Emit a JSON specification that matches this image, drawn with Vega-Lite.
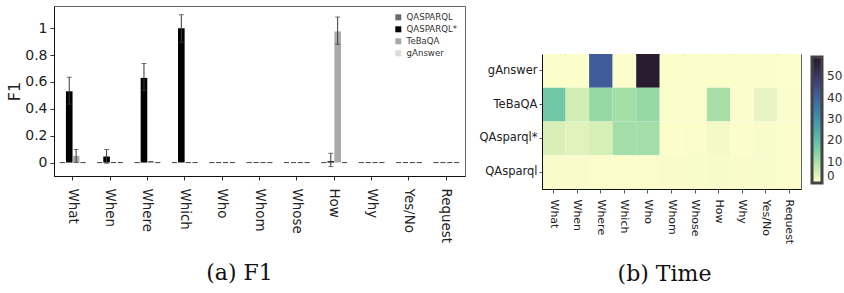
{
  "$schema": "https://vega.github.io/schema/vega-lite/v6.json",
  "padding": {"left": 6, "top": 5, "right": 0, "bottom": 0},
  "background": "white",
  "spacing": 12,
  "config": {
    "font": "DejaVu Sans",
    "view": {"stroke": "#666", "strokeWidth": 1},
    "axis": {"domainColor": "#111", "tickColor": "#333", "labelColor": "#222", "titleColor": "#222", "labelFont": "DejaVu Sans", "grid": false},
    "axisY": {"labelOverlap": false}
  },
  "resolve": {"scale": {"color": "independent"}, "legend": {"color": "independent"}},
  "datasets": {
    "f1": [
      {"q": "What", "sys": "QASPARQL", "f1": 0, "lo": 0, "hi": 0},
      {"q": "What", "sys": "QASPARQL*", "f1": 0.53, "lo": 0.435, "hi": 0.635},
      {"q": "What", "sys": "TeBaQA", "f1": 0.05, "lo": 0, "hi": 0.097},
      {"q": "What", "sys": "gAnswer", "f1": 0, "lo": 0, "hi": 0},
      {"q": "When", "sys": "QASPARQL", "f1": 0, "lo": 0, "hi": 0},
      {"q": "When", "sys": "QASPARQL*", "f1": 0.045, "lo": -0.005, "hi": 0.097},
      {"q": "When", "sys": "TeBaQA", "f1": 0, "lo": 0, "hi": 0},
      {"q": "When", "sys": "gAnswer", "f1": 0, "lo": 0, "hi": 0},
      {"q": "Where", "sys": "QASPARQL", "f1": 0, "lo": 0, "hi": 0},
      {"q": "Where", "sys": "QASPARQL*", "f1": 0.63, "lo": 0.535, "hi": 0.737},
      {"q": "Where", "sys": "TeBaQA", "f1": 0.006, "lo": 0.006, "hi": 0.006},
      {"q": "Where", "sys": "gAnswer", "f1": 0, "lo": 0, "hi": 0},
      {"q": "Which", "sys": "QASPARQL", "f1": 0, "lo": 0, "hi": 0},
      {"q": "Which", "sys": "QASPARQL*", "f1": 1.0, "lo": 0.895, "hi": 1.1},
      {"q": "Which", "sys": "TeBaQA", "f1": 0, "lo": 0, "hi": 0},
      {"q": "Which", "sys": "gAnswer", "f1": 0, "lo": 0, "hi": 0},
      {"q": "Who", "sys": "QASPARQL", "f1": 0, "lo": 0, "hi": 0},
      {"q": "Who", "sys": "QASPARQL*", "f1": 0, "lo": 0, "hi": 0},
      {"q": "Who", "sys": "TeBaQA", "f1": 0, "lo": 0, "hi": 0},
      {"q": "Who", "sys": "gAnswer", "f1": 0, "lo": 0, "hi": 0},
      {"q": "Whom", "sys": "QASPARQL", "f1": 0, "lo": 0, "hi": 0},
      {"q": "Whom", "sys": "QASPARQL*", "f1": 0, "lo": 0, "hi": 0},
      {"q": "Whom", "sys": "TeBaQA", "f1": 0, "lo": 0, "hi": 0},
      {"q": "Whom", "sys": "gAnswer", "f1": 0, "lo": 0, "hi": 0},
      {"q": "Whose", "sys": "QASPARQL", "f1": 0, "lo": 0, "hi": 0},
      {"q": "Whose", "sys": "QASPARQL*", "f1": 0, "lo": 0, "hi": 0},
      {"q": "Whose", "sys": "TeBaQA", "f1": 0, "lo": 0, "hi": 0},
      {"q": "Whose", "sys": "gAnswer", "f1": 0, "lo": 0, "hi": 0},
      {"q": "How", "sys": "QASPARQL", "f1": 0, "lo": 0, "hi": 0},
      {"q": "How", "sys": "QASPARQL*", "f1": 0.01, "lo": -0.03, "hi": 0.069},
      {"q": "How", "sys": "TeBaQA", "f1": 0.975, "lo": 0.88, "hi": 1.083},
      {"q": "How", "sys": "gAnswer", "f1": 0, "lo": 0, "hi": 0},
      {"q": "Why", "sys": "QASPARQL", "f1": 0, "lo": 0, "hi": 0},
      {"q": "Why", "sys": "QASPARQL*", "f1": 0, "lo": 0, "hi": 0},
      {"q": "Why", "sys": "TeBaQA", "f1": 0, "lo": 0, "hi": 0},
      {"q": "Why", "sys": "gAnswer", "f1": 0, "lo": 0, "hi": 0},
      {"q": "Yes/No", "sys": "QASPARQL", "f1": 0, "lo": 0, "hi": 0},
      {"q": "Yes/No", "sys": "QASPARQL*", "f1": 0, "lo": 0, "hi": 0},
      {"q": "Yes/No", "sys": "TeBaQA", "f1": 0, "lo": 0, "hi": 0},
      {"q": "Yes/No", "sys": "gAnswer", "f1": 0, "lo": 0, "hi": 0},
      {"q": "Request", "sys": "QASPARQL", "f1": 0, "lo": 0, "hi": 0},
      {"q": "Request", "sys": "QASPARQL*", "f1": 0, "lo": 0, "hi": 0},
      {"q": "Request", "sys": "TeBaQA", "f1": 0, "lo": 0, "hi": 0},
      {"q": "Request", "sys": "gAnswer", "f1": 0, "lo": 0, "hi": 0}
    ],
    "time": [
      {"q": "What", "sys": "gAnswer", "t": 0.2},
      {"q": "When", "sys": "gAnswer", "t": 0.2},
      {"q": "Where", "sys": "gAnswer", "t": 41},
      {"q": "Which", "sys": "gAnswer", "t": 0.3},
      {"q": "Who", "sys": "gAnswer", "t": 58},
      {"q": "Whom", "sys": "gAnswer", "t": 0.2},
      {"q": "Whose", "sys": "gAnswer", "t": 0.2},
      {"q": "How", "sys": "gAnswer", "t": 0.2},
      {"q": "Why", "sys": "gAnswer", "t": 0.2},
      {"q": "Yes/No", "sys": "gAnswer", "t": 0.3},
      {"q": "Request", "sys": "gAnswer", "t": 0.1},
      {"q": "What", "sys": "TeBaQA", "t": 17.5},
      {"q": "When", "sys": "TeBaQA", "t": 5.5},
      {"q": "Where", "sys": "TeBaQA", "t": 12.5},
      {"q": "Which", "sys": "TeBaQA", "t": 11},
      {"q": "Who", "sys": "TeBaQA", "t": 12.5},
      {"q": "Whom", "sys": "TeBaQA", "t": 0.3},
      {"q": "Whose", "sys": "TeBaQA", "t": 0.3},
      {"q": "How", "sys": "TeBaQA", "t": 10.5},
      {"q": "Why", "sys": "TeBaQA", "t": 0.3},
      {"q": "Yes/No", "sys": "TeBaQA", "t": 3},
      {"q": "Request", "sys": "TeBaQA", "t": 0.3},
      {"q": "What", "sys": "QAsparql*", "t": 4.7},
      {"q": "When", "sys": "QAsparql*", "t": 3.7},
      {"q": "Where", "sys": "QAsparql*", "t": 5},
      {"q": "Which", "sys": "QAsparql*", "t": 11},
      {"q": "Who", "sys": "QAsparql*", "t": 11},
      {"q": "Whom", "sys": "QAsparql*", "t": 0.3},
      {"q": "Whose", "sys": "QAsparql*", "t": 0.4},
      {"q": "How", "sys": "QAsparql*", "t": 1.2},
      {"q": "Why", "sys": "QAsparql*", "t": 0.3},
      {"q": "Yes/No", "sys": "QAsparql*", "t": 0.6},
      {"q": "Request", "sys": "QAsparql*", "t": 0.2},
      {"q": "What", "sys": "QAsparql", "t": 0.5},
      {"q": "When", "sys": "QAsparql", "t": 0.5},
      {"q": "Where", "sys": "QAsparql", "t": 0.4},
      {"q": "Which", "sys": "QAsparql", "t": 0.4},
      {"q": "Who", "sys": "QAsparql", "t": 0.4},
      {"q": "Whom", "sys": "QAsparql", "t": 0.5},
      {"q": "Whose", "sys": "QAsparql", "t": 0.6},
      {"q": "How", "sys": "QAsparql", "t": 0.9},
      {"q": "Why", "sys": "QAsparql", "t": 0.5},
      {"q": "Yes/No", "sys": "QAsparql", "t": 0.6},
      {"q": "Request", "sys": "QAsparql", "t": 0.3}
    ]
  },
  "hconcat": [
    {
      "width": 411,
      "height": 170,
      "data": {"name": "f1"},
      "encoding": {
        "x": {
          "field": "q", "type": "nominal",
          "sort": ["What", "When", "Where", "Which", "Who", "Whom", "Whose", "How", "Why", "Yes/No", "Request"],
          "scale": {"paddingInner": 0.27, "paddingOuter": 0.135},
          "axis": {"labelAngle": 90, "labelFontSize": 13.4, "tickSize": 4, "labelPadding": 8, "title": "(a) F1", "titleFont": "DejaVu Serif", "titleFontSize": 22, "titleFontWeight": "normal", "titleColor": "#111", "titleX": 185, "titleY": 86}
        },
        "xOffset": {
          "field": "sys", "type": "nominal",
          "sort": ["QASPARQL", "QASPARQL*", "TeBaQA", "gAnswer"],
          "scale": {"paddingInner": 0.04}
        }
      },
      "layer": [
        {
          "mark": {"type": "bar"},
          "encoding": {
            "y": {
              "field": "f1", "type": "quantitative",
              "scale": {"domain": [-0.1, 1.165], "nice": false},
              "axis": {"values": [0, 0.2, 0.4, 0.6, 0.8, 1], "format": "~g", "labelOverlap": false, "labelFontSize": 14, "tickSize": 4, "labelPadding": 3, "title": "F1", "titleFontSize": 16, "titleFontWeight": "normal", "titlePadding": 2}
            },
            "color": {
              "field": "sys", "type": "nominal",
              "sort": ["QASPARQL", "QASPARQL*", "TeBaQA", "gAnswer"],
              "scale": {"domain": ["QASPARQL", "QASPARQL*", "TeBaQA", "gAnswer"], "range": ["#6a6a6a", "#000000", "#a9a9a9", "#dcdcdc"]},
              "legend": {"orient": "top-right", "title": null, "symbolType": "square", "symbolSize": 36, "symbolStrokeWidth": 0, "labelFontSize": 8.6, "labelColor": "#333", "rowPadding": 3, "offset": 5, "padding": 2}
            }
          }
        },
        {
          "mark": {"type": "rule", "color": "#3a3a3a", "strokeWidth": 1},
          "encoding": {
            "y": {"field": "lo", "type": "quantitative", "axis": {"values": [0, 0.2, 0.4, 0.6, 0.8, 1], "format": "~g", "labelOverlap": false, "labelFontSize": 14, "tickSize": 4, "labelPadding": 3, "title": "F1", "titleFontSize": 16, "titleFontWeight": "normal", "titlePadding": 2}},
            "y2": {"field": "hi"}
          }
        },
        {
          "mark": {"type": "tick", "color": "#3a3a3a", "size": 5, "thickness": 1},
          "encoding": {"y": {"field": "lo", "type": "quantitative", "axis": {"values": [0, 0.2, 0.4, 0.6, 0.8, 1], "format": "~g", "labelOverlap": false, "labelFontSize": 14, "tickSize": 4, "labelPadding": 3, "title": "F1", "titleFontSize": 16, "titleFontWeight": "normal", "titlePadding": 2}}}
        },
        {
          "mark": {"type": "tick", "color": "#3a3a3a", "size": 5, "thickness": 1},
          "encoding": {"y": {"field": "hi", "type": "quantitative", "axis": {"values": [0, 0.2, 0.4, 0.6, 0.8, 1], "format": "~g", "labelOverlap": false, "labelFontSize": 14, "tickSize": 4, "labelPadding": 3, "title": "F1", "titleFontSize": 16, "titleFontWeight": "normal", "titlePadding": 2}}}
        }
      ]
    },
    {
      "spacing": 0,
      "resolve": {"scale": {"color": "independent"}, "legend": {"color": "independent"}},
      "vconcat": [
        {
          "width": 259,
          "height": 47,
          "view": {"stroke": null},
          "data": {"values": []},
          "mark": "point"
        },
        {
          "width": 259,
          "height": 135,
          "data": {"name": "time"},
          "mark": {"type": "rect"},
          "encoding": {
            "x": {
              "field": "q", "type": "nominal",
              "sort": ["What", "When", "Where", "Which", "Who", "Whom", "Whose", "How", "Why", "Yes/No", "Request"],
              "axis": {"labelAngle": 90, "labelFontSize": 11, "tickSize": 4, "labelPadding": 6, "tickColor": "#555", "title": "(b) Time", "titleFont": "DejaVu Serif", "titleFontSize": 22, "titleFontWeight": "normal", "titleColor": "#111", "titleX": 122, "titleY": 74}
            },
            "y": {
              "field": "sys", "type": "nominal",
              "sort": ["gAnswer", "TeBaQA", "QAsparql*", "QAsparql"],
              "axis": {"labelFontSize": 11.5, "tickSize": 3, "labelPadding": 2, "tickColor": "#555", "title": null}
            },
            "color": {
              "field": "t", "type": "quantitative",
              "scale": {"domain": [0, 59], "range": ["#fdfecc", "#e6f5c1", "#ceedb3", "#b4e4a9", "#9cdba6", "#84d2a6", "#6fc7a8", "#5ebbaa", "#51aeab", "#48a1ac", "#4294ac", "#3e86aa", "#3d78a7", "#3f6aa1", "#415c98", "#424e89", "#404275", "#3a375f", "#332b4a", "#2c2139", "#281a2c"]},
              "legend": {"title": null, "values": [0, 10, 20, 30, 40, 50], "gradientLength": 126, "gradientThickness": 10, "gradientStrokeColor": "#444", "gradientStrokeWidth": 3, "labelFontSize": 12, "labelColor": "#333", "labelOffset": 5, "offset": 8, "padding": 3}
            }
          }
        }
      ]
    }
  ]
}
